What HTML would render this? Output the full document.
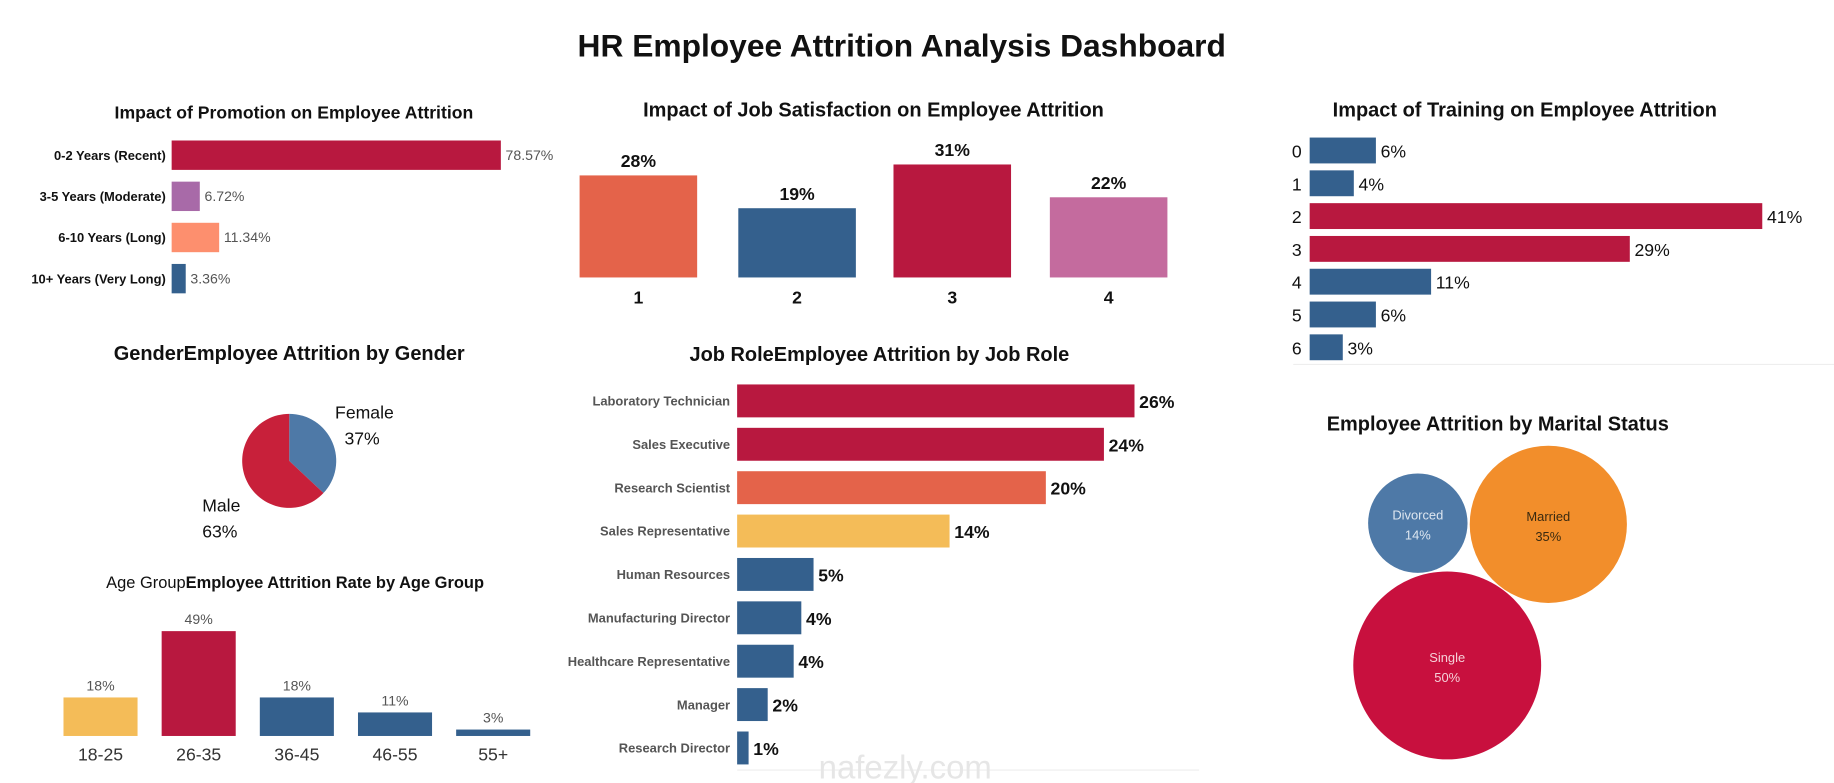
<!DOCTYPE html>
<html><head><meta charset="utf-8"><style>
html,body{margin:0;padding:0;background:#fff;}
svg{display:block;font-family:"Liberation Sans",sans-serif;}
</style></head><body>
<svg id="dash" width="1834" height="783" viewBox="0 0 1560 666" preserveAspectRatio="none" xmlns="http://www.w3.org/2000/svg">
<text x="767" y="48" text-anchor="middle" font-size="27" font-weight="bold" fill="#111">HR Employee Attrition Analysis Dashboard</text>
<text x="250" y="101" text-anchor="middle" font-size="15" font-weight="bold" fill="#111">Impact of Promotion on Employee Attrition</text>
<text x="743" y="99" text-anchor="middle" font-size="17" font-weight="bold" fill="#111">Impact of Job Satisfaction on Employee Attrition</text>
<text x="1297" y="99" text-anchor="middle" font-size="17" font-weight="bold" fill="#111">Impact of Training on Employee Attrition</text>
<text x="246" y="306" text-anchor="middle" font-size="17" font-weight="bold" fill="#111">GenderEmployee Attrition by Gender</text>
<text x="748" y="307" text-anchor="middle" font-size="17" font-weight="bold" fill="#111">Job RoleEmployee Attrition by Job Role</text>
<text x="251" y="500" text-anchor="middle" font-size="14" fill="#111">Age Group<tspan font-weight="bold">Employee Attrition Rate by Age Group</tspan></text>
<text x="1274" y="366" text-anchor="middle" font-size="17" font-weight="bold" fill="#111">Employee Attrition by Marital Status</text>
<line x1="1100" y1="310" x2="1560" y2="310" stroke="#eee"/>
<line x1="627" y1="655" x2="1020" y2="655" stroke="#eee"/>
<text x="770" y="662" text-anchor="middle" font-size="28" fill="#e6e6e6">nafezly.com</text>
<g id="g"></g>
</svg>
<script>
// Promotion
const promoCats = ["0-2 Years (Recent)","3-5 Years (Moderate)","6-10 Years (Long)","10+ Years (Very Long)"];
const promoVals = [78.57, 6.72, 11.34, 3.36];
// Job satisfaction
const satCats = ["1","2","3","4"];
const satVals = [28, 19, 31, 22];
// Training
const trainCats = ["0","1","2","3","4","5","6"];
const trainVals = [6, 4, 41, 29, 11, 6, 3];
// Gender
const genderCats = ["Female","Male"];
const genderVals = [37, 63];
// Age
const ageCats = ["18-25","26-35","36-45","46-55","55+"];
const ageVals = [18, 49, 18, 11, 3];
// Job role
const roleCats = ["Laboratory Technician","Sales Executive","Research Scientist","Sales Representative","Human Resources","Manufacturing Director","Healthcare Representative","Manager","Research Director"];
const roleVals = [26, 24, 20.2, 13.9, 5, 4.2, 3.7, 2, 0.75];
// Marital
const maritalCats = ["Divorced","Married","Single"];
const maritalVals = [14, 35, 50];

const NS="http://www.w3.org/2000/svg";
const G=document.getElementById('g');
function mk(tag,attrs,parent){const e=document.createElementNS(NS,tag);for(const k in attrs)e.setAttribute(k,attrs[k]);(parent||G).appendChild(e);return e;}
function txt(s,attrs){const e=mk('text',attrs);e.textContent=s;return e;}
const RED="#b8183f",BLUE="#34608d",ORANGE="#e4634a",YEL="#f4bc58";

// Promotion chart
{const x0=146,sx=v=>v*3.564,y=i=>132+i*35,h=25;const cols=[RED,"#a86aa8","#fd8f6e",BLUE];
promoCats.forEach((c,i)=>{
 const r=mk('rect',{x:x0,y:y(i)-h/2,width:sx(promoVals[i]),height:h,fill:cols[i]});
 
 
 const l=txt(c,{x:x0-5,y:y(i)+4,'text-anchor':'end','font-size':11,'font-weight':'bold',fill:'#111'});
 
 
 const v=txt(promoVals[i].toFixed(2)+'%',{x:x0+sx(promoVals[i])+4,y:y(i)+4,'font-size':12,fill:'#555'});
 
 
});}

// Satisfaction
{const base=236,sy=v=>v*3.1,xs=[493,628,760,893],w=100;const cols=[ORANGE,BLUE,RED,"#c46b9e"];
satCats.forEach((c,i)=>{
 const r=mk('rect',{x:xs[i],y:base-sy(satVals[i]),width:w,height:sy(satVals[i]),fill:cols[i]});
 
 
 const v=txt(satVals[i]+'%',{x:xs[i]+w/2,y:base-sy(satVals[i])-7,'text-anchor':'middle','font-size':15,'font-weight':'bold',fill:'#111'});
 
 
 const l=txt(c,{x:xs[i]+w/2,y:258,'text-anchor':'middle','font-size':15,'font-weight':'bold',fill:'#111'});
 
 
});}

// Training
{const x0=1114,sx=v=>v*9.39,y=i=>128+i*27.9,h=22;
trainCats.forEach((c,i)=>{
 const r=mk('rect',{x:x0,y:y(i)-h/2,width:sx(trainVals[i]),height:h,fill:(trainVals[i]>20?RED:BLUE)});
 
 
 const l=txt(c,{x:1103,y:y(i)+6,'text-anchor':'middle','font-size':15,fill:'#111'});
 
 
 const v=txt(trainVals[i]+'%',{x:x0+sx(trainVals[i])+4,y:y(i)+6,'font-size':15,fill:'#111'});
 
 
});}

// Gender pie
{const cx=246,cy=392,r=40;const tot=genderVals.reduce((a,b)=>a+b,0);const cols=["#4e79a7","#c8203a"];let a=0;
genderVals.forEach((v,i)=>{
 const a1=a+v/tot*2*Math.PI;const p=t=>[cx+r*Math.sin(t),cy-r*Math.cos(t)];
 const [x1,y1]=p(a),[x2,y2]=p(a1);
 const s=mk('path',{d:`M${cx},${cy}L${x1},${y1}A${r},${r} 0 ${a1-a>Math.PI?1:0} 1 ${x2},${y2}Z`,fill:cols[i]});
 
 
 a=a1;
});
const pos=[[285,356,293,378],[172,435,172,457]];
genderCats.forEach((c,i)=>{
 const l=txt(c,{x:pos[i][0],y:pos[i][1],'font-size':15,fill:'#111'});
 
 
 const v=txt(genderVals[i]+'%',{x:pos[i][2],y:pos[i][3],'font-size':15,fill:'#111'});
 
 
});}

// Age
{const base=626,sy=v=>v*1.82,x=i=>54+i*83.5,w=63;
ageCats.forEach((c,i)=>{
 const col=i===0?YEL:(i===1?RED:BLUE);
 const r=mk('rect',{x:x(i),y:base-sy(ageVals[i]),width:w,height:sy(ageVals[i]),fill:col});
 
 
 const v=txt(ageVals[i]+'%',{x:x(i)+w/2,y:base-sy(ageVals[i])-6,'text-anchor':'middle','font-size':12,fill:'#555'});
 
 
 const l=txt(c,{x:x(i)+w/2,y:647,'text-anchor':'middle','font-size':15,fill:'#333'});
 
 
});}

// Job role
{const x0=627,sx=v=>v*13,y=i=>341+i*36.9,h=28;
const cols=[RED,RED,ORANGE,YEL,BLUE,BLUE,BLUE,BLUE,BLUE];
roleCats.forEach((c,i)=>{
 const r=mk('rect',{x:x0,y:y(i)-h/2,width:sx(roleVals[i]),height:h,fill:cols[i]});
 
 
 const l=txt(c,{x:621,y:y(i)+4,'text-anchor':'end','font-size':11,'font-weight':'bold',fill:'#555'});
 
 
 const v=txt(Math.max(1,Math.round(roleVals[i]))+'%',{x:x0+sx(roleVals[i])+4,y:y(i)+6,'font-size':15,'font-weight':'bold',fill:'#111'});
 
 
});}

// Marital bubbles
{const k=11.3;const centers=[[1206,445],[1317,446],[1231,566]];const cols=["#4e79a7","#f28e2b","#c8103e"];const tc=["#dde6f0","#3a2a10","#f5d0d8"];
maritalCats.forEach((c,i)=>{
 const r=Math.sqrt(maritalVals[i])*k;
 const ci=mk('circle',{cx:centers[i][0],cy:centers[i][1],r:r,fill:cols[i]});
 
 
 const l=txt(c,{x:centers[i][0],y:centers[i][1]-3,'text-anchor':'middle','font-size':11,fill:tc[i]});
 
 
 const v=txt(maritalVals[i]+'%',{x:centers[i][0],y:centers[i][1]+14,'text-anchor':'middle','font-size':11,fill:tc[i]});
 
 
});}
</script>
</body></html>
